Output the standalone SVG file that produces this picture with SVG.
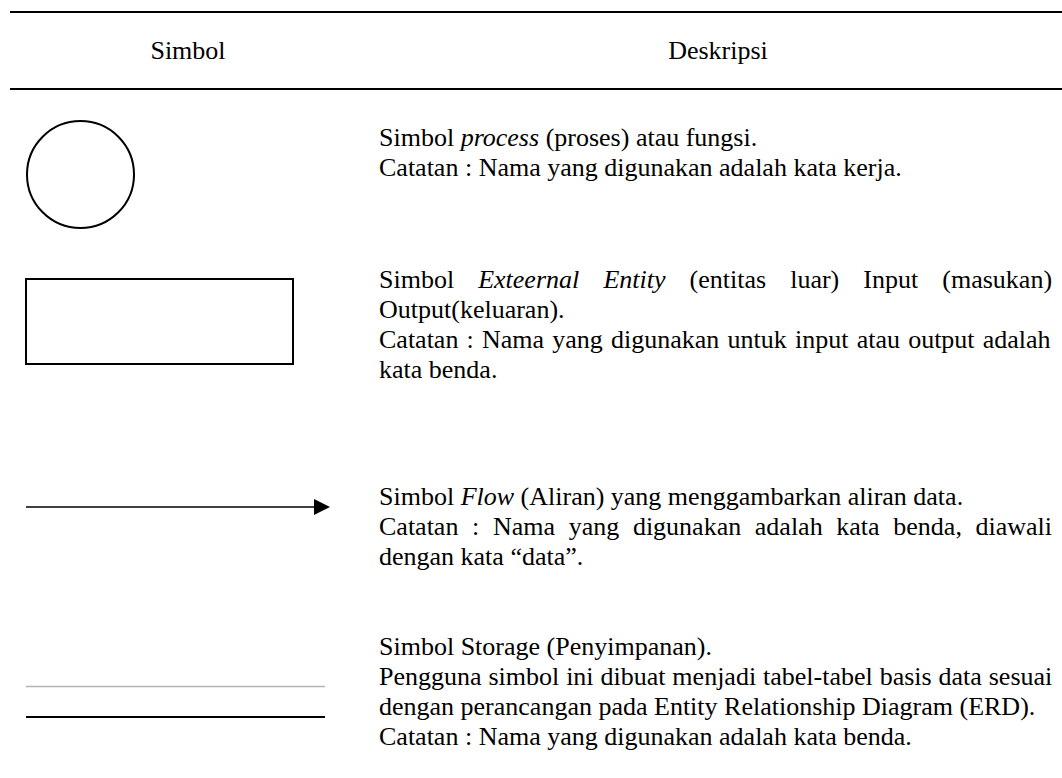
<svg xmlns="http://www.w3.org/2000/svg" width="1062" height="778" viewBox="0 0 1062 778">
  <style>
    text { font-family: "Liberation Serif", "Times New Roman", serif; font-size: 26px; fill: #000; }
    .it { font-style: italic; }
    .rule { stroke: #000; stroke-width: 2.2; }
    .shape { fill: none; stroke: #000; stroke-width: 2; }
  </style>
  <defs>
    <marker id="arrowHead" markerWidth="16" markerHeight="16" refX="0" refY="8" orient="auto" markerUnits="userSpaceOnUse">
      <polygon points="0,0 16,8 0,16" fill="#000"/>
    </marker>
  </defs>
  <rect width="1062" height="778" fill="#fff"/>

  <g id="table-header">
    <line class="rule" x1="10" y1="12" x2="1062" y2="12"/>
    <text x="188" y="59" text-anchor="middle">Simbol</text>
    <text x="718" y="59" text-anchor="middle">Deskripsi</text>
    <line class="rule" x1="10" y1="89" x2="1062" y2="89"/>
  </g>

  <g id="process-symbol">
    <circle class="shape" cx="80.5" cy="174.5" r="53.5"/>
  </g>
  <g id="process-desc">
    <text x="379" y="146">Simbol <tspan class="it">process</tspan> (proses) atau fungsi.</text>
    <text x="379" y="176">Catatan : Nama yang digunakan adalah kata kerja.</text>
  </g>

  <g id="entity-symbol">
    <rect class="shape" x="26" y="279" width="267" height="85"/>
  </g>
  <g id="entity-desc">
    <text y="288"><tspan x="379">Simbol</tspan><tspan x="478.2" class="it">Exteernal</tspan><tspan x="603.4" class="it">Entity</tspan><tspan x="689.6">(entitas</tspan><tspan x="790.2">luar)</tspan><tspan x="863.3">Input</tspan><tspan x="942.3">(masukan)</tspan></text>
    <text x="379" y="318">Output(keluaran).</text>
    <text x="379" y="348" word-spacing="1.7">Catatan : Nama yang digunakan untuk input atau output adalah</text>
    <text x="379" y="378">kata benda.</text>
  </g>

  <g id="connectors">
    <g id="flow-symbol">
      <line x1="26" y1="507" x2="314" y2="507" stroke="#000" stroke-width="1.5" marker-end="url(#arrowHead)"/>
    </g>
  </g>
  <g id="flow-desc">
    <text x="379" y="505">Simbol <tspan class="it">Flow</tspan> (Aliran) yang menggambarkan aliran data.</text>
    <text y="535"><tspan x="379">Catatan</tspan><tspan x="472.1">:</tspan><tspan x="492.9">Nama</tspan><tspan x="568.7">yang</tspan><tspan x="632.9">digunakan</tspan><tspan x="754.8">adalah</tspan><tspan x="836.3">kata</tspan><tspan x="893.3">benda,</tspan><tspan x="975.5">diawali</tspan></text>
    <text x="379" y="565">dengan kata “data”.</text>
  </g>

  <g id="storage-symbol">
    <line x1="26" y1="686.5" x2="325" y2="686.5" stroke="#b3b3b3" stroke-width="1.5"/>
    <line x1="26" y1="717" x2="325" y2="717" stroke="#000" stroke-width="1.8"/>
  </g>
  <g id="storage-desc">
    <text x="379" y="655">Simbol Storage (Penyimpanan).</text>
    <text x="379" y="685" word-spacing="0.4">Pengguna simbol ini dibuat menjadi tabel-tabel basis data sesuai</text>
    <text x="379" y="715">dengan perancangan pada Entity Relationship Diagram (ERD).</text>
    <text x="379" y="745">Catatan : Nama yang digunakan adalah kata benda.</text>
  </g>
</svg>
